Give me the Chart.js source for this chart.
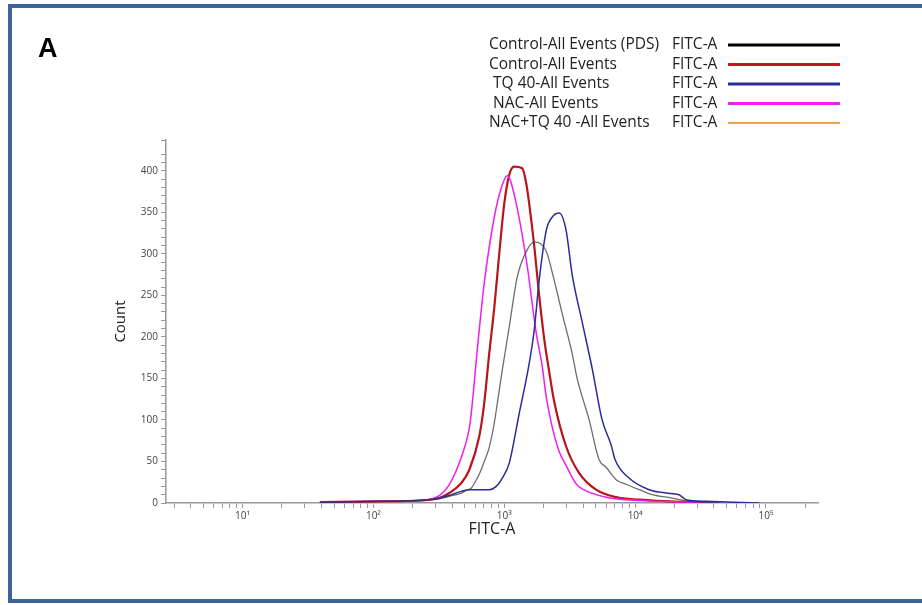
<!DOCTYPE html>
<html>
<head>
<meta charset="utf-8">
<script src="https://cdn.jsdelivr.net/npm/chart.js@4"></script>
<style>
  html, body { margin: 0; padding: 0; background: #fff; }
  #wrap { position: relative; width: 922px; height: 605px; overflow: hidden; }
  #frame {
    position: absolute; left: 8px; top: 4px; width: 960px; height: 599px;
    box-sizing: border-box; border: 4px solid #3d6494; border-right: none;
    pointer-events: none;
  }
  #panel {
    position: absolute; left: 38px; top: 33px;
    font: bold 27px "Liberation Sans", Arial, sans-serif; color: #000;
  }
  canvas { position: absolute; left: 0; top: 0; }
</style>
</head>
<body>
<div id="wrap">
  <canvas id="histChart" width="922" height="605"></canvas>
  <div id="frame"></div>
  <div id="panel">A</div>
</div>
<script>
// legend text
const seriesNames = [
  'Control-All Events (PDS)',
  'Control-All Events',
  ' TQ 40-All Events',
  ' NAC-All Events',
  'NAC+TQ 40 -All Events'
];
const paramName = 'FITC-A';
const legendColors = ['#000000', '#c4161c', '#2b2b9a', '#f01ef0', '#f2a04e'];

// axis ticks
const majorTicks = [10, 100, 1000, 10000, 100000];
const majorLabels = ['10¹', '10²', '10³', '10⁴', '10⁵'];

// Control (PDS) - shows as the thin grey trace
const pdsFitc  = [39, 111, 224, 319, 380, 470, 513, 560, 622, 667, 703, 768, 839, 885, 966, 1092, 1256, 1500, 1694, 2093, 2410, 2773, 3304, 3606, 4457, 5310, 6008, 7161, 8690, 10740, 13490, 19150, 25840, 43760];
const pdsCount = [1, 2, 3, 5, 8, 12, 15, 18, 30, 40, 50, 67, 96, 120, 160, 212, 272, 305, 314, 303, 268, 228, 180, 150, 100, 52, 43, 28, 22, 16, 10, 6, 2, 0];

// Control
const ctrlFitc  = [39, 111, 224, 319, 380, 470, 541, 644, 703, 768, 839, 916, 1000, 1092, 1192, 1371, 1472, 1552, 1694, 1849, 2019, 2206, 2410, 2972, 3738, 5035, 7161, 10740, 25840, 43760];
const ctrlCount = [1, 2, 3, 6, 12, 24, 40, 80, 120, 180, 235, 300, 360, 395, 405, 403, 385, 360, 310, 250, 198, 158, 122, 68, 36, 16, 7, 4, 1, 0];

// TQ 40
const tqFitc  = [39, 111, 224, 319, 380, 470, 541, 768, 869, 966, 1092, 1302, 1552, 1694, 1849, 2093, 2323, 2630, 2972, 3304, 3940, 4697, 5598, 6557, 7039, 8990, 12790, 17260, 21680, 24500, 34830, 88500];
const tqCount = [1, 2, 3, 6, 9, 14, 16, 16, 20, 30, 48, 108, 168, 208, 268, 328, 344, 349, 328, 275, 218, 162, 100, 70, 52, 30, 16, 12, 10, 4, 2, 0];

// NAC
const nacFitc  = [39, 111, 224, 319, 380, 470, 541, 560, 622, 703, 839, 966, 1054, 1092, 1256, 1500, 1754, 1950, 2093, 2323, 2630, 2972, 3548, 3940, 6008, 10740, 25840, 43760];
const nacCount = [1, 2, 3, 9, 22, 55, 90, 108, 184, 264, 344, 383, 394, 392, 355, 285, 205, 165, 128, 92, 62, 45, 23, 17, 7, 3, 1, 0];

// NAC+TQ 40 - trace not visible in the plot, legend entry only
const nacTqFitc  = [];
const nacTqCount = [];

const toPoints = (xs, ys) => xs.map((x, i) => ({ x: x, y: ys[i] }));

function trace(label, xs, ys, color, width) {
  return {
    label: label,
    data: toPoints(xs, ys),
    borderColor: color,
    borderWidth: width,
    pointRadius: 0,
    fill: false,
    cubicInterpolationMode: 'monotone'
  };
}

const legendPlugin = {
  id: 'flowLegend',
  afterDraw(chart) {
    const c = chart.ctx;
    c.save();
    c.font = '15.5px "Open Sans", "Noto Sans", sans-serif';
    c.fillStyle = '#222';
    c.textBaseline = 'middle';
    seriesNames.forEach((name, i) => {
      const y = 45 + i * 19.5;
      c.fillText(name, 489, y);
      c.fillText(paramName, 672, y);
      c.strokeStyle = legendColors[i];
      c.lineWidth = i === 4 ? 2 : 3;
      c.beginPath();
      c.moveTo(728, y);
      c.lineTo(840, y);
      c.stroke();
    });
    c.restore();
  }
};

const ctx = document.getElementById('histChart').getContext('2d');

const histChart = new Chart(ctx, {
  type: 'line',
  data: {
    datasets: [
      trace(seriesNames[4], nacTqFitc, nacTqCount, legendColors[4], 1.5),
      trace(seriesNames[0], pdsFitc, pdsCount, 'rgba(60,60,60,0.75)', 1.3),
      trace(seriesNames[2], tqFitc, tqCount, legendColors[2], 1.5),
      trace(seriesNames[3], nacFitc, nacCount, legendColors[3], 1.5),
      trace(seriesNames[1], ctrlFitc, ctrlCount, '#b8141c', 2.2)
    ]
  },
  options: {
    responsive: false,
    animation: false,
    layout: { padding: { left: 108, top: 140, right: 104, bottom: 62 } },
    scales: {
      x: {
        type: 'logarithmic',
        position: 'bottom',
        min: 2.6,
        max: 250000,
        grid: { drawOnChartArea: false, tickLength: 5, color: '#999' },
        border: { color: '#999', width: 1.5 },
        ticks: {
          autoSkip: false,
          maxRotation: 0,
          padding: 2,
          color: '#444',
          font: { size: 10, family: '"Open Sans", sans-serif' },
          callback: (value) => {
            const i = majorTicks.indexOf(value);
            return i >= 0 ? majorLabels[i] : '';
          }
        },
        afterBuildTicks: (scale) => {
          const list = [];
          for (let p = 1; p <= 100000; p *= 10) {
            for (let m = 1; m <= 9; m++) {
              const v = m * p;
              if (v >= 2.6 && v <= 250000) list.push({ value: v });
            }
          }
          scale.ticks = list;
        },
        afterFit: (scale) => { scale.height = 40; },
        title: {
          display: true,
          text: 'FITC-A',
          color: '#222',
          font: { size: 16, family: '"Open Sans", sans-serif' },
          padding: { top: 0, bottom: 4 }
        }
      },
      y: {
        min: 0,
        max: 437,
        grid: { drawOnChartArea: false, tickLength: 5, color: '#999' },
        border: { color: '#999', width: 1.5 },
        ticks: {
          stepSize: 10,
          autoSkip: false,
          padding: 3,
          color: '#444',
          font: { size: 10, family: '"Open Sans", sans-serif' },
          callback: (value) => (value % 50 === 0 ? value : '')
        },
        afterFit: (scale) => { scale.width = 58; },
        title: {
          display: true,
          text: 'Count',
          color: '#222',
          font: { size: 15, family: '"Open Sans", sans-serif' }
        }
      }
    },
    plugins: {
      legend: { display: false },
      tooltip: { enabled: false }
    }
  },
  plugins: [legendPlugin]
});
</script>
</body>
</html>
